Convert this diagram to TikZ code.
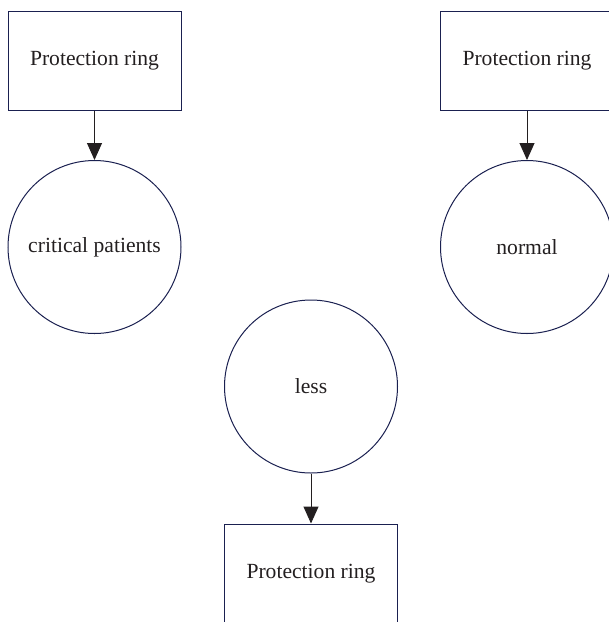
\documentclass[tikz,border=0pt]{standalone}
\usepackage{fontspec}
\setmainfont{Liberation Serif}
\usetikzlibrary{arrows.meta}
\definecolor{navy}{HTML}{1A2050}
\definecolor{ink}{HTML}{231F20}
\tikzset{
  ringbox/.style={draw=navy, line width=1pt, rectangle, minimum width=173pt, minimum height=99pt, inner sep=0pt, text=ink, font=\fontsize{21.6}{25}\selectfont},
  state/.style={draw=navy, line width=1pt, circle, minimum size=173pt, inner sep=0pt, text=ink, font=\fontsize{21.6}{25}\selectfont},
  link/.style={draw=ink, line width=1pt, -{Triangle[width=15pt,length=17pt]}}
}
\begin{document}
\begin{tikzpicture}[x=1pt,y=-1pt]
\useasboundingbox (0,0) rectangle (609,622);
\clip (0,0) rectangle (609,622);
\node[ringbox] (b1) at (94.5,60.5) {Protection ring};
\node[state] (c1) at (94.5,247) {critical patients};
\node[ringbox] (b2) at (527,60.5) {Protection ring};
\node[state] (c2) at (527,247) {normal};
\node[state] (c3) at (311,386.5) {less};
\node[ringbox] (b3) at (311,573.5) {Protection ring};
\draw[link] (b1) -- (c1);
\draw[link] (b2) -- (c2);
\draw[link] (c3) -- (b3);
\end{tikzpicture}
\end{document}
